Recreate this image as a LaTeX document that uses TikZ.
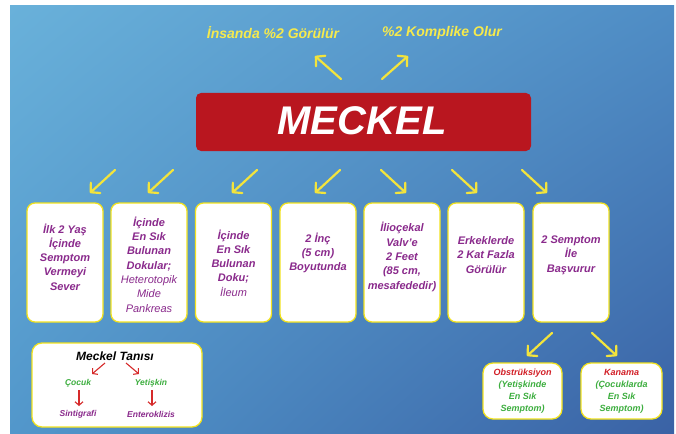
\documentclass[tikz,border=0pt]{standalone}
\usepackage{fontspec}
\setmainfont{Liberation Sans}
\usetikzlibrary{arrows.meta,shadings}
\definecolor{bgTL}{HTML}{69B1DA}
\definecolor{bgTR}{HTML}{4F8DC5}
\definecolor{bgBL}{HTML}{5297CB}
\definecolor{bgBR}{HTML}{3A62A5}
\definecolor{arrY}{HTML}{F3E43C}
\definecolor{txtY}{HTML}{F6EA4C}
\definecolor{boxY}{HTML}{F2E21E}
\definecolor{mred}{HTML}{B9161F}
\definecolor{purp}{HTML}{8A2A8C}
\definecolor{grn}{HTML}{3DAE3F}
\definecolor{rtxt}{HTML}{D21F27}
\definecolor{rarr}{HTML}{D62A2A}
\tikzset{
  ya/.style={draw=arrY, line width=2.2pt, line cap=round, -{Straight Barb[length=6.5pt,width=14pt,round]}},
  ra/.style={draw=rarr, line width=1.1pt, -{Straight Barb[length=3.5pt,width=8pt]}},
  wbox/.style={draw=boxY, line width=1.3pt, fill=white, rounded corners=8pt, minimum width=76pt, minimum height=119pt, inner sep=0pt},
  btxt/.style={align=center, font=\fontsize{11}{14.3}\selectfont\bfseries\itshape, text=purp, inner sep=1pt},
  toptxt/.style={font=\fontsize{14}{16}\selectfont\bfseries\itshape, text=txtY, inner sep=0pt},
  smtxt/.style={align=center, font=\fontsize{9}{12}\selectfont\bfseries\itshape, inner sep=0pt},
  dtxt/.style={font=\fontsize{8.5}{10}\selectfont\bfseries\itshape, inner sep=0pt}
}
\begin{document}
\begin{tikzpicture}[x=1pt,y=-1pt]
\useasboundingbox (0,0) rectangle (676,433);
\shade[upper left=bgTL, upper right=bgTR, lower left=bgBL, lower right=bgBR] (10,6) rectangle (674,433);

% top texts
\node[toptxt] (t1) at (273,33) {İnsanda \%2 Görülür};
\node[toptxt] (t2) at (442,33) {\%2 Komplike Olur};
\coordinate (u1s) at (341,79); \coordinate (u1e) at (315,56);
\coordinate (u2s) at (382,79); \coordinate (u2e) at (408,56);
\draw[ya] (u1s) -- (u1e);
\draw[ya] (u2s) -- (u2e);

% main box
\node[fill=mred, rounded corners=5pt, minimum width=335pt, minimum height=58pt, inner sep=0pt] (m) at (363.5,122) {};
\node[font=\fontsize{40}{44}\selectfont\bfseries\itshape, text=white, inner sep=0pt] (mt) at (362,121) {MECKEL};

% down arrows
\foreach \i/\sx/\ex in {1/115/90, 2/173/148, 3/257/232, 4/340/315, 5/381/406, 6/452/477, 7/522/547}{
  \coordinate (d\i s) at (\sx,170);
  \coordinate (d\i e) at (\ex,193);
  \draw[ya] (d\i s) -- (d\i e);
}

% boxes
\node[wbox] (b1) at (65,262.5) {};
\node[wbox] (b2) at (149,262.5) {};
\node[wbox] (b3) at (233.5,262.5) {};
\node[wbox] (b4) at (318,262.5) {};
\node[wbox] (b5) at (402,262.5) {};
\node[wbox] (b6) at (486,262.5) {};
\node[wbox] (b7) at (571,262.5) {};

\node[btxt] (x1) at (65,257) {İlk 2 Yaş\\İçinde\\Semptom\\Vermeyi\\Sever};
\node[btxt] (x2) at (149,264.5) {İçinde\\En Sık\\Bulunan\\Dokular;\\\mdseries Heterotopik\\\mdseries Mide\\\mdseries Pankreas};
\node[btxt] (x3) at (233.5,263) {İçinde\\En Sık\\Bulunan\\Doku;\\\mdseries İleum};
\node[btxt] (x4) at (318,253) {2 İnç\\(5 cm)\\Boyutunda};
\node[btxt] (x5) at (402,257) {İlioçekal\\Valv'e\\2 Feet\\(85 cm,\\mesafededir)};
\node[btxt] (x6) at (486,255) {Erkeklerde\\2 Kat Fazla\\Görülür};
\node[btxt] (x7) at (571,255) {2 Semptom\\İle\\Başvurur};

% Meckel Tanisi box
\node[draw=boxY, line width=1.3pt, fill=white, rounded corners=10pt, minimum width=170pt, minimum height=84pt, inner sep=0pt] (tb) at (117,385) {};
\node[font=\fontsize{12}{14}\selectfont\bfseries\itshape, text=black, inner sep=0pt] (tt) at (115,356) {Meckel Tanısı};
\node[dtxt, text=grn] (cc) at (78,383) {Çocuk};
\node[dtxt, text=grn] (yt) at (151,383) {Yetişkin};
\node[dtxt, text=purp] (st) at (78,414) {Sintigrafi};
\node[dtxt, text=purp] (en) at (151,414) {Enteroklizis};
\coordinate (r1s) at (105,363); \coordinate (r1e) at (92,374);
\coordinate (r2s) at (126,363); \coordinate (r2e) at (139,374);
\coordinate (r3s) at (79,390); \coordinate (r3e) at (79,406);
\coordinate (r4s) at (152,390); \coordinate (r4e) at (152,406);
\draw[ra] (r1s) -- (r1e);
\draw[ra] (r2s) -- (r2e);
\draw[ra] (r3s) -- (r3e);
\draw[ra] (r4s) -- (r4e);

% symptom arrows
\coordinate (s1s) at (552,333); \coordinate (s1e) at (527,356);
\coordinate (s2s) at (592,333); \coordinate (s2e) at (617,356);
\draw[ya] (s1s) -- (s1e);
\draw[ya] (s2s) -- (s2e);

% bottom right boxes
\node[draw=boxY, line width=1.3pt, fill=white, rounded corners=10pt, minimum width=79pt, minimum height=56pt, inner sep=0pt] (o) at (522.5,391) {};
\node[draw=boxY, line width=1.3pt, fill=white, rounded corners=10pt, minimum width=81pt, minimum height=56pt, inner sep=0pt] (k) at (621.5,391) {};
\node[smtxt] (ot) at (522.5,391) {\textcolor{rtxt}{Obstrüksiyon}\\\textcolor{grn}{(Yetişkinde}\\\textcolor{grn}{En Sık}\\\textcolor{grn}{Semptom)}};
\node[smtxt] (kt) at (621.5,391) {\textcolor{rtxt}{Kanama}\\\textcolor{grn}{(Çocuklarda}\\\textcolor{grn}{En Sık}\\\textcolor{grn}{Semptom)}};
\end{tikzpicture}
\end{document}
